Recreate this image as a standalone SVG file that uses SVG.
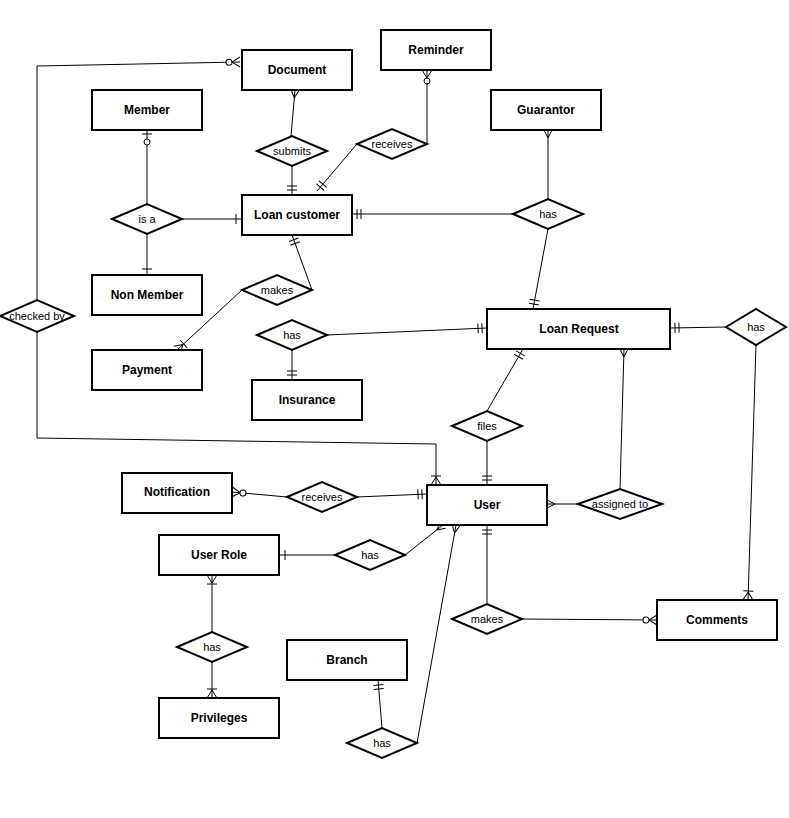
<svg xmlns="http://www.w3.org/2000/svg" width="789" height="818" viewBox="0 0 789 818">
<style>
.e rect{fill:#fff;stroke:#000;stroke-width:2}
.e text{font-family:"Liberation Sans",Arial,sans-serif;font-size:12px;font-weight:bold;text-anchor:middle;dominant-baseline:central}
.r polygon{fill:#fff;stroke:#000;stroke-width:2}
.r text{font-family:"Liberation Sans",Arial,sans-serif;font-size:11px;text-anchor:middle;dominant-baseline:central}
#connectors path{fill:none;stroke:#000;stroke-width:1}
marker path{fill:none;stroke:#000;stroke-width:1}
marker circle{fill:#fff;stroke:#000;stroke-width:1}
</style>
<defs>
<marker id="one" markerUnits="userSpaceOnUse" markerWidth="24" markerHeight="14" viewBox="-20 -7 24 14" refX="0" refY="0" orient="auto" overflow="visible"><path d="M-6,-5V5"/></marker>
<marker id="two" markerUnits="userSpaceOnUse" markerWidth="24" markerHeight="14" viewBox="-20 -7 24 14" refX="0" refY="0" orient="auto" overflow="visible"><path d="M-5,-5V5M-9,-5V5"/></marker>
<marker id="many" markerUnits="userSpaceOnUse" markerWidth="24" markerHeight="14" viewBox="-20 -7 24 14" refX="0" refY="0" orient="auto" overflow="visible"><path d="M-8,0L0,-4M-8,0L0,4"/></marker>
<marker id="onemany" markerUnits="userSpaceOnUse" markerWidth="24" markerHeight="14" viewBox="-20 -7 24 14" refX="0" refY="0" orient="auto" overflow="visible"><path d="M-8,0L0,-5M-8,0L0,5M-9,-5V5"/></marker>
<marker id="zeromany" markerUnits="userSpaceOnUse" markerWidth="24" markerHeight="14" viewBox="-20 -7 24 14" refX="0" refY="0" orient="auto" overflow="visible"><path d="M-8,0L0,-5M-8,0L0,5"/><circle cx="-11" cy="0" r="3"/></marker>
<marker id="zeroone" markerUnits="userSpaceOnUse" markerWidth="24" markerHeight="14" viewBox="-20 -7 24 14" refX="0" refY="0" orient="auto" overflow="visible"><path d="M-4,-5V5"/><circle cx="-12" cy="0" r="3"/></marker>
</defs>
<rect width="789" height="818" fill="#fff"/>
<g id="connectors">
<path d="M37,300V66L240,62" marker-end="url(#zeromany)"/>
<path d="M37,332V438L436,444V485" marker-end="url(#onemany)"/>
<path d="M147,204V130" marker-end="url(#zeroone)"/>
<path d="M147,234V275" marker-end="url(#one)"/>
<path d="M182,219H242" marker-end="url(#one)"/>
<path d="M291,136L295,90" marker-end="url(#many)"/>
<path d="M292,166V195" marker-end="url(#two)"/>
<path d="M357,144L317,191" marker-end="url(#two)"/>
<path d="M427,144V70" marker-end="url(#zeromany)"/>
<path d="M513,214H352" marker-end="url(#two)"/>
<path d="M548,199V130" marker-end="url(#many)"/>
<path d="M548,229L533,309" marker-end="url(#two)"/>
<path d="M312,290L292,235" marker-end="url(#two)"/>
<path d="M242,290L177,350" marker-end="url(#onemany)"/>
<path d="M292,350V380" marker-end="url(#two)"/>
<path d="M327,335L487,328" marker-end="url(#two)"/>
<path d="M726,327L670,328" marker-end="url(#two)"/>
<path d="M756,345L748,600" marker-end="url(#onemany)"/>
<path d="M487,411L523,349" marker-end="url(#two)"/>
<path d="M487,441V485" marker-end="url(#two)"/>
<path d="M620,489L624,349" marker-end="url(#many)"/>
<path d="M578,504H547" marker-end="url(#many)"/>
<path d="M287,497L232,492" marker-end="url(#zeromany)"/>
<path d="M357,497L427,494" marker-end="url(#two)"/>
<path d="M335,555H279" marker-end="url(#one)"/>
<path d="M405,555L443,525" marker-end="url(#many)"/>
<path d="M487,604V525" marker-end="url(#two)"/>
<path d="M522,619L657,620" marker-end="url(#zeromany)"/>
<path d="M212,632V575" marker-end="url(#onemany)"/>
<path d="M212,662V698" marker-end="url(#onemany)"/>
<path d="M382,728L378,680" marker-end="url(#two)"/>
<path d="M417,743L456,525" marker-end="url(#many)"/>
</g>
<g id="document" class="e"><rect x="242" y="50" width="110" height="40"/><text x="297" y="70">Document</text></g>
<g id="reminder" class="e"><rect x="381" y="30" width="110" height="40"/><text x="436" y="50">Reminder</text></g>
<g id="member" class="e"><rect x="92" y="90" width="110" height="40"/><text x="147" y="110">Member</text></g>
<g id="guarantor" class="e"><rect x="491" y="90" width="110" height="40"/><text x="546" y="110">Guarantor</text></g>
<g id="loan-customer" class="e"><rect x="242" y="195" width="110" height="40"/><text x="297" y="215">Loan customer</text></g>
<g id="non-member" class="e"><rect x="92" y="275" width="110" height="40"/><text x="147" y="295">Non Member</text></g>
<g id="loan-request" class="e"><rect x="487" y="309" width="183" height="40"/><text x="579" y="329">Loan Request</text></g>
<g id="payment" class="e"><rect x="92" y="350" width="110" height="40"/><text x="147" y="370">Payment</text></g>
<g id="insurance" class="e"><rect x="252" y="380" width="110" height="40"/><text x="307" y="400">Insurance</text></g>
<g id="notification" class="e"><rect x="122" y="473" width="110" height="40"/><text x="177" y="492">Notification</text></g>
<g id="user" class="e"><rect x="427" y="485" width="120" height="40"/><text x="487" y="505">User</text></g>
<g id="user-role" class="e"><rect x="159" y="535" width="120" height="40"/><text x="219" y="555">User Role</text></g>
<g id="comments" class="e"><rect x="657" y="600" width="120" height="40"/><text x="717" y="620">Comments</text></g>
<g id="branch" class="e"><rect x="287" y="640" width="120" height="40"/><text x="347" y="660">Branch</text></g>
<g id="privileges" class="e"><rect x="159" y="698" width="120" height="40"/><text x="219" y="718">Privileges</text></g>
<g id="r-submits" class="r"><polygon points="257,151 292,136 327,151 292,166"/><text x="292" y="151">submits</text></g>
<g id="r-receives1" class="r"><polygon points="357,144 392,129 427,144 392,159"/><text x="392" y="144">receives</text></g>
<g id="r-isa" class="r"><polygon points="112,219 147,204 182,219 147,234"/><text x="147" y="219">is a</text></g>
<g id="r-has-guarantor" class="r"><polygon points="513,214 548,199 583,214 548,229"/><text x="548" y="214">has</text></g>
<g id="r-checked" class="r"><polygon points="0,316 37,300 74,316 37,332"/><text x="37" y="316">checked by</text></g>
<g id="r-makes1" class="r"><polygon points="242,290 277,275 312,290 277,305"/><text x="277" y="290">makes</text></g>
<g id="r-has-ins" class="r"><polygon points="257,335 292,320 327,335 292,350"/><text x="292" y="335">has</text></g>
<g id="r-has-comments" class="r"><polygon points="726,327 756,309 786,327 756,345"/><text x="756" y="327">has</text></g>
<g id="r-files" class="r"><polygon points="452,426 487,411 522,426 487,441"/><text x="487" y="426">files</text></g>
<g id="r-receives2" class="r"><polygon points="287,497 322,482 357,497 322,512"/><text x="322" y="497">receives</text></g>
<g id="r-assigned" class="r"><polygon points="578,504 620,489 662,504 620,519"/><text x="620" y="504">assigned to</text></g>
<g id="r-has-role" class="r"><polygon points="335,555 370,540 405,555 370,570"/><text x="370" y="555">has</text></g>
<g id="r-makes2" class="r"><polygon points="452,619 487,604 522,619 487,634"/><text x="487" y="619">makes</text></g>
<g id="r-has-priv" class="r"><polygon points="177,647 212,632 247,647 212,662"/><text x="212" y="647">has</text></g>
<g id="r-has-branch" class="r"><polygon points="347,743 382,728 417,743 382,758"/><text x="382" y="743">has</text></g>
</svg>
